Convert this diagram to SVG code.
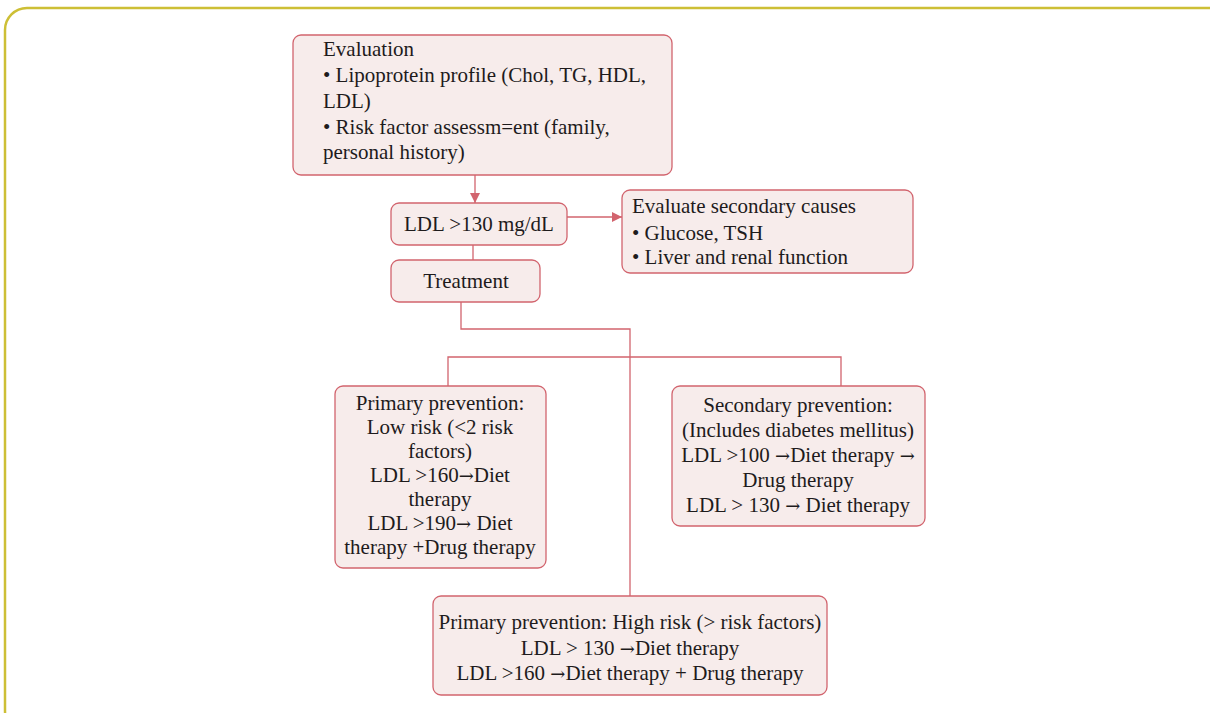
<svg xmlns="http://www.w3.org/2000/svg" width="1210" height="713" viewBox="0 0 1210 713">
<style>
.frame{fill:none;stroke:#CDBF35;stroke-width:2.5}
.box{fill:#F7ECEB;stroke:#D2646E;stroke-width:1.3}
.ln{fill:none;stroke:#D2646E;stroke-width:1.3}
text{font-family:"Liberation Serif","Times New Roman",serif;font-size:21px;fill:#1E1B1C}
.c{text-anchor:middle}
.a{font-family:"DejaVu Serif",serif;font-size:18px}
</style>
<defs>
<marker id="ah" viewBox="0 0 10 10" refX="10" refY="5" markerWidth="10" markerHeight="10" markerUnits="userSpaceOnUse" orient="auto">
<path d="M0,0 L10,5 L0,10 Z" fill="#D2646E"/>
</marker>
</defs>
<rect class="frame" x="5" y="8" width="1225" height="725" rx="22"/>
<g id="connectors">
<line class="ln" x1="475" y1="175" x2="475" y2="203" marker-end="url(#ah)"/>
<line class="ln" x1="567" y1="217" x2="622" y2="217" marker-end="url(#ah)"/>
<line class="ln" x1="473" y1="245" x2="473" y2="260"/>
<polyline class="ln" points="461,302 461,329 630,329 630,596"/>
<polyline class="ln" points="448,386 448,357 841,357 841,386"/>
</g>
<g id="evaluation">
<rect class="box" x="293" y="35" width="379" height="140" rx="8"/>
<text x="323" y="56">Evaluation</text>
<text x="323" y="82">• Lipoprotein profile (Chol, TG, HDL,</text>
<text x="323" y="108">LDL)</text>
<text x="323" y="134">• Risk factor assessm=ent (family,</text>
<text x="323" y="159">personal history)</text>
</g>
<g id="ldl">
<rect class="box" x="391" y="203" width="176" height="42" rx="8"/>
<text class="c" x="479" y="231">LDL &gt;130 mg/dL</text>
</g>
<g id="secondary-causes">
<rect class="box" x="622" y="190" width="291" height="83" rx="8"/>
<text x="632" y="213">Evaluate secondary causes</text>
<text x="632" y="240">• Glucose, TSH</text>
<text x="632" y="264">• Liver and renal function</text>
</g>
<g id="treatment">
<rect class="box" x="391" y="260" width="149" height="42" rx="8"/>
<text class="c" x="466" y="288">Treatment</text>
</g>
<g id="primary-low">
<rect class="box" x="335" y="386" width="211" height="182" rx="8"/>
<text class="c" x="440" y="410">Primary prevention:</text>
<text class="c" x="440" y="434">Low risk (&lt;2 risk</text>
<text class="c" x="440" y="458">factors)</text>
<text class="c" x="440" y="482">LDL &gt;160<tspan class="a">→</tspan>Diet</text>
<text class="c" x="440" y="506">therapy</text>
<text class="c" x="440" y="530">LDL &gt;190<tspan class="a">→</tspan> Diet</text>
<text class="c" x="440" y="554">therapy +Drug therapy</text>
</g>
<g id="secondary-prevention">
<rect class="box" x="672" y="386" width="253" height="140" rx="8"/>
<text class="c" x="798" y="412">Secondary prevention:</text>
<text class="c" x="798" y="437">(Includes diabetes mellitus)</text>
<text class="c" x="798" y="462">LDL &gt;100 <tspan class="a">→</tspan>Diet therapy <tspan class="a">→</tspan></text>
<text class="c" x="798" y="487">Drug therapy</text>
<text class="c" x="798" y="512">LDL &gt; 130 <tspan class="a">→</tspan> Diet therapy</text>
</g>
<g id="primary-high">
<rect class="box" x="433" y="596" width="394" height="99" rx="8"/>
<text class="c" x="630" y="629">Primary prevention: High risk (&gt; risk factors)</text>
<text class="c" x="630" y="655">LDL &gt; 130 <tspan class="a">→</tspan>Diet therapy</text>
<text class="c" x="630" y="680">LDL &gt;160 <tspan class="a">→</tspan>Diet therapy + Drug therapy</text>
</g>
</svg>
